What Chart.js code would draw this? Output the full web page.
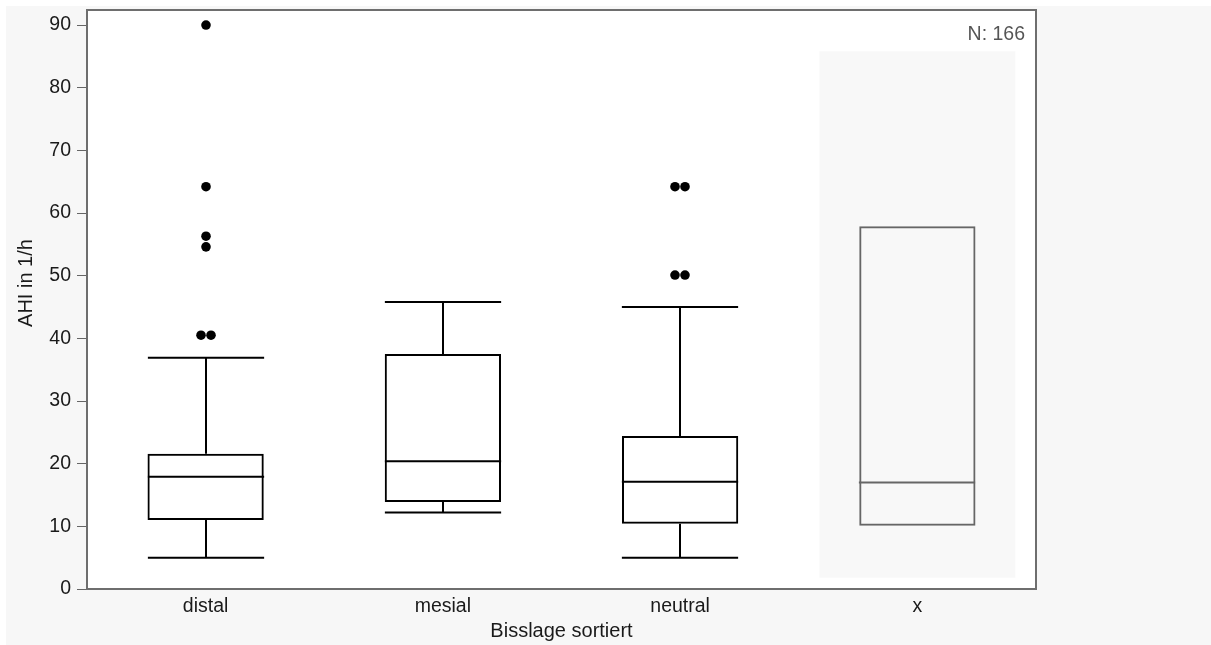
<!DOCTYPE html>
<html>
<head>
<meta charset="utf-8">
<script src="https://cdn.jsdelivr.net/npm/chart.js@4.4.0/dist/chart.umd.min.js"></script>
<style>
html, body { margin: 0; padding: 0; background: #fff; }
#wrap { width: 1211px; height: 645px; }
</style>
</head>
<body>
<div id="wrap"><canvas id="boxChart" width="1211" height="645"></canvas></div>
<script>
// Werte (AHI in 1/h)
var CATEGORIES = ['distal', 'mesial', 'neutral', 'x'],
    WHISKER_LOW = [5, 12.2, 5, 10.1],
    Q1 = [11, 13.9, 10.4, 10.1],
    MEDIAN = [17.9, 20.4, 17.1, 17],
    Q3 = [21.6, 37.5, 24.4, 57.9],
    WHISKER_HIGH = [36.9, 45.8, 45, 57.9],
    OUTLIERS = [[90, 64.2, 56.3, 54.6, 40.5, 40.5], [], [64.2, 64.2, 50.1, 50.1], []],
    SHADE = [null, null, null, [1.8, 85.8]],
    BOX_COLORS = ['#000', '#000', '#000', '#666'],
    N_TEXT = 'N: 166';

var FONT = '"Liberation Sans", Arial, sans-serif';
Chart.defaults.font.family = FONT;
Chart.defaults.font.size = 19.5;
Chart.defaults.color = '#1a1a1a';

function noPadding(scale) {
    scale.paddingTop = 0;
    scale.paddingBottom = 0;
    scale.paddingLeft = 0;
    scale.paddingRight = 0;
}

// Whisker, Median, Ausreisser, Rahmen und Titel
var boxExtras = {
    id: 'boxExtras',
    beforeDraw: function (chart) {
        var ctx = chart.ctx, a = chart.chartArea;
        ctx.save();
        ctx.fillStyle = '#f7f7f7';
        ctx.fillRect(6, 6, chart.width - 6, chart.height - 6);
        ctx.fillStyle = '#fff';
        ctx.fillRect(a.left, a.top, a.right - a.left, a.bottom - a.top);
        ctx.restore();
    },
    afterDatasetsDraw: function (chart) {
        var ctx = chart.ctx,
            xs = chart.scales.x,
            ys = chart.scales.y,
            bars = chart.getDatasetMeta(0).data;
        ctx.save();
        ctx.lineWidth = 2;
        for (var i = 0; i < CATEGORIES.length; i++) {
            var cx = Math.round(xs.getPixelForValue(i)),
                hw = bars[i].width / 2;
            ctx.strokeStyle = BOX_COLORS[i];
            ctx.beginPath();
            // median
            ctx.moveTo(cx - hw, ys.getPixelForValue(MEDIAN[i]));
            ctx.lineTo(cx + hw, ys.getPixelForValue(MEDIAN[i]));
            // whiskers
            if (WHISKER_HIGH[i] > Q3[i]) {
                ctx.moveTo(cx, ys.getPixelForValue(Q3[i]));
                ctx.lineTo(cx, ys.getPixelForValue(WHISKER_HIGH[i]));
                ctx.moveTo(cx - hw, ys.getPixelForValue(WHISKER_HIGH[i]));
                ctx.lineTo(cx + hw, ys.getPixelForValue(WHISKER_HIGH[i]));
            }
            if (WHISKER_LOW[i] < Q1[i]) {
                ctx.moveTo(cx, ys.getPixelForValue(Q1[i]));
                ctx.lineTo(cx, ys.getPixelForValue(WHISKER_LOW[i]));
                ctx.moveTo(cx - hw, ys.getPixelForValue(WHISKER_LOW[i]));
                ctx.lineTo(cx + hw, ys.getPixelForValue(WHISKER_LOW[i]));
            }
            ctx.stroke();

            // Ausreisser, gleiche Werte nebeneinander
            var counts = {};
            OUTLIERS[i].forEach(function (v) { counts[v] = (counts[v] || 0) + 1; });
            var seen = {};
            ctx.fillStyle = '#000';
            OUTLIERS[i].forEach(function (v) {
                var n = counts[v], k = seen[v] || 0;
                seen[v] = k + 1;
                var px = cx + (k - (n - 1) / 2) * 10;
                ctx.beginPath();
                ctx.arc(px, ys.getPixelForValue(v), 4.8, 0, Math.PI * 2);
                ctx.fill();
            });
        }
        ctx.restore();
    },
    afterDraw: function (chart) {
        var ctx = chart.ctx, a = chart.chartArea;
        ctx.save();
        ctx.strokeStyle = '#6e6e6e';
        ctx.lineWidth = 2;
        ctx.strokeRect(a.left, a.top, a.right - a.left, a.bottom - a.top);

        ctx.fillStyle = '#1a1a1a';
        ctx.font = '20px ' + FONT;
        ctx.textAlign = 'center';
        ctx.textBaseline = 'middle';
        ctx.fillText('Bisslage sortiert', (a.left + a.right) / 2, 631);

        ctx.save();
        ctx.translate(26, 283);
        ctx.rotate(-Math.PI / 2);
        ctx.fillText('AHI in 1/h', 0, 0);
        ctx.restore();

        ctx.fillStyle = '#555';
        ctx.font = '19.5px ' + FONT;
        ctx.textAlign = 'right';
        ctx.fillText(N_TEXT, a.right - 11, a.top + 25);
        ctx.restore();
    }
};

var ctx = document.getElementById('boxChart').getContext('2d');
var boxChart = new Chart(ctx, {
    type: 'bar',
    data: {
        labels: CATEGORIES,
        datasets: [
            {
                // Boxen Q1..Q3
                data: Q1.map(function (v, i) { return [v, Q3[i]]; }),
                backgroundColor: 'rgba(0,0,0,0)',
                borderColor: BOX_COLORS,
                borderWidth: 2,
                borderSkipped: false,
                barPercentage: 0.49,
                categoryPercentage: 1,
                grouped: false,
                order: 1
            },
            {
                // grau hinterlegter Bereich
                data: SHADE,
                backgroundColor: '#f8f8f8',
                borderWidth: 0,
                barPercentage: 0.826,
                categoryPercentage: 1,
                grouped: false,
                order: 2
            }
        ]
    },
    options: {
        responsive: false,
        animation: false,
        layout: { padding: { left: 0, top: 10, right: 175, bottom: 0 } },
        plugins: {
            legend: { display: false },
            tooltip: { enabled: false }
        },
        scales: {
            x: {
                grid: { display: false, drawTicks: false },
                border: { display: false },
                ticks: { padding: 6 },
                afterFit: function (scale) { scale.height = 56; noPadding(scale); }
            },
            y: {
                min: 0,
                max: 92.4,
                grid: { drawOnChartArea: false, drawTicks: true, tickLength: 10, color: '#666', lineWidth: 1 },
                border: { display: false },
                ticks: { stepSize: 10, includeBounds: false, padding: 6 },
                afterFit: function (scale) { scale.width = 87; noPadding(scale); }
            }
        }
    },
    plugins: [boxExtras]
});
</script>
</body>
</html>
